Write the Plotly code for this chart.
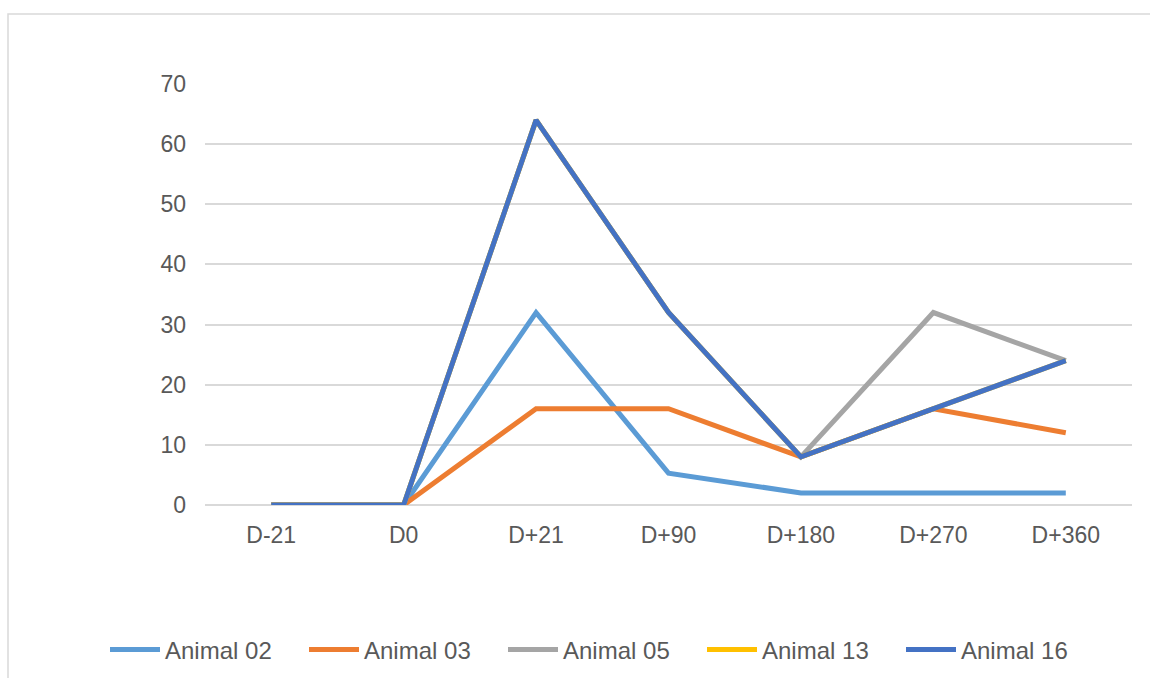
import plotly.graph_objects as go

# Sampling days and antibody titres per animal
days = ["D-21", "D0", "D+21", "D+90", "D+180", "D+270", "D+360"]
animal_02 = [0, 0, 32, 5.3, 2, 2, 2]
animal_03 = [0, 0, 16, 16, 8, 16, 12]
animal_05 = [0, 0, 64, 32, 8, 32, 24]
animal_13 = [0, 0, 64, 32, 8, 16, 24]
animal_16 = [0, 0, 64, 32, 8, 16, 24]
y_ticks = [0, 10, 20, 30, 40, 50, 60, 70]

series = [
    ("Animal 02", animal_02, "#5B9BD5"),
    ("Animal 03", animal_03, "#ED7D31"),
    ("Animal 05", animal_05, "#A5A5A5"),
    ("Animal 13", animal_13, "#FFC000"),
    ("Animal 16", animal_16, "#4472C4"),
]

FONT = "Liberation Sans, Arial, sans-serif"
TXT = "#595959"
GRID = "#D9D9D9"
FS = 23

fig = go.Figure()
for name, vals, color in series:
    fig.add_trace(go.Scatter(
        x=days, y=vals, name=name, mode="lines",
        line=dict(color=color, width=5),
    ))

W, H = 1150, 678
L, R, T, B = 205, 18, 84, 173
pw, ph = W - L - R, H - T - B


def px_x(x):
    return (x - L) / pw


def px_y(y):
    return (H - B - y) / ph


fig.update_layout(
    width=W, height=H,
    margin=dict(l=L, r=R, t=T, b=B, autoexpand=False),
    paper_bgcolor="white", plot_bgcolor="white",
    font=dict(family=FONT, size=FS, color=TXT),
    showlegend=True,
    legend=dict(
        orientation="h",
        x=px_x(105), y=px_y(650),
        xanchor="left", yanchor="middle",
        bgcolor="rgba(0,0,0,0)",
        font=dict(family=FONT, size=24, color=TXT),
        itemwidth=50,
        entrywidth=134,
        traceorder="normal",
    ),
    xaxis=dict(
        type="category", range=[-0.5, 6.5],
        showgrid=False, zeroline=False, showline=False,
        ticks="", ticklabelstandoff=14,
        tickfont=dict(family=FONT, size=FS, color=TXT),
    ),
    yaxis=dict(
        range=[0, 70], tickvals=y_ticks,
        showgrid=True, gridcolor=GRID, gridwidth=1.5,
        zeroline=True, zerolinecolor=GRID, zerolinewidth=1.5,
        showline=False, ticks="", ticklabelstandoff=18,
        tickfont=dict(family=FONT, size=FS, color=TXT),
    ),
    shapes=[dict(
        type="rect", xref="paper", yref="paper",
        x0=px_x(8), x1=px_x(1153), y0=px_y(681), y1=px_y(14),
        line=dict(color=GRID, width=1.5), fillcolor="rgba(0,0,0,0)",
        layer="below",
    )],
)

fig.write_html("out.html")
